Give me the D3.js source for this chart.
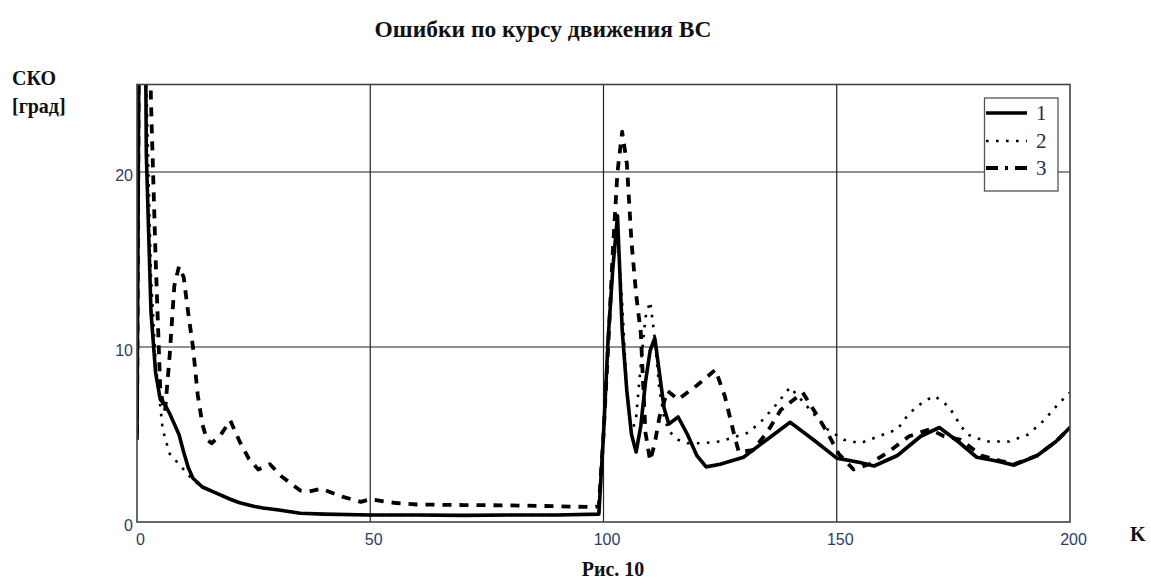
<!DOCTYPE html>
<html><head><meta charset="utf-8">
<script src="https://cdn.jsdelivr.net/npm/d3@7"></script>
<style>body{margin:0;background:#fff;}svg{display:block;}</style>
</head><body>
<svg id="c" width="1151" height="585"></svg>
<script>
// ---- data ----
const xTicks = [0, 50, 100, 150, 200];
const yTicks = [0, 10, 20];
const seriesNames = ["1", "2", "3"];

const s1K = [0,1,2,3,4,5,6,7,8,9,10,11,12,14,17,20,22,25,27,30,35,40,50,60,70,80,90,99,100,101,102,103,104,105,106,107,108,109,110,111,112,113,114,116,118,120,122,125,130,135,140,145,150,155,158,163,168,172,176,180,184,188,193,197,200];
const s1V = [4.7,60,21,12,8.5,7.0,6.7,6.2,5.6,5.0,4.0,3.1,2.5,2.0,1.65,1.3,1.1,0.9,0.8,0.7,0.5,0.45,0.4,0.4,0.38,0.4,0.4,0.45,5,10.5,14.5,17.5,11,7.5,5.0,4.0,5.5,8,9.8,10.5,8.5,6.5,5.6,6.0,5.0,3.8,3.15,3.3,3.7,4.7,5.7,4.7,3.65,3.4,3.2,3.8,4.9,5.4,4.6,3.7,3.5,3.25,3.8,4.6,5.4];

const s2K = [0,1,2,3,4,5,5.5,7,10,12,14,17,20,22,25,27,30,35,40,50,60,70,80,90,99,100,101,102,103,104,105,106,107,108,109,110,111,112,113,114,116,118,121,125,131,134,137,140,142,145,148,151.5,155,159,163,165.5,168.7,171,174,176.6,178,182,187,191,194.4,197.7,200];
const s2V = [4.7,60,25,14,9,6.6,5.3,3.9,3.0,2.4,2.0,1.65,1.3,1.1,0.9,0.8,0.7,0.5,0.45,0.4,0.4,0.38,0.4,0.4,0.45,5,10.5,14.5,16.5,12.5,7.5,5.0,6.0,9.0,11.7,12.6,10.5,7.5,6.0,5.2,4.7,4.5,4.5,4.6,5.1,5.8,6.7,7.7,7.1,6.2,5.3,4.7,4.5,4.9,5.3,6.2,6.9,7.2,6.6,5.5,5.0,4.6,4.6,5.0,5.8,6.8,7.4];

const s3K = [0,1,2,3,4,5,6,7,8,9,10,11,12,13,14,15,16,18,20,22,24,26,28.5,31,35,37,39.5,44,48,50,55,60,70,80,90,98,99,100,101,102,103,104,105,106,107,108,108.5,109,110,111,112,113.7,116,120,124,126,128,129,132,135,138,142.7,146,148,150.4,153.6,157,161.6,165.5,170,173,176.6,181,185,188,193,197,200];
const s3V = [5,60,40,24,15,7.5,6.3,9.5,13.5,14.6,14,11.9,10,7.3,5.6,4.7,4.5,5.0,5.8,4.6,3.6,3.0,3.3,2.6,1.8,1.75,1.9,1.45,1.15,1.3,1.1,1.0,0.97,0.95,0.9,0.85,0.9,5,10,15.5,20,22.3,20.5,16,13,10.8,7.9,5.1,3.5,4.5,6.0,7.5,7.0,7.8,8.7,7.2,5.0,4.0,4.1,5.1,6.4,7.4,6.0,5.1,3.9,3.0,3.3,4.1,4.9,5.3,4.9,4.7,3.8,3.5,3.3,3.8,4.6,5.4];

// ---- layout ----
const svg = d3.select("#c");
const L = 137, R = 1070, T = 84.5, B = 522;
const x = d3.scaleLinear().domain([0, 200]).range([L, R]);
const y = d3.scaleLinear().domain([0, 25]).range([B, T]);

const serif = "'Liberation Serif','Times New Roman',serif";
const sans = "'Liberation Sans',Arial,sans-serif";
const labelColor = "#2b3c6b";

// title
svg.append("text").attr("x", 543).attr("y", 37).attr("text-anchor", "middle")
  .attr("font-family", serif).attr("font-weight", "bold").attr("font-size", 23.5)
  .attr("fill", "#111").text("Ошибки по курсу движения ВС");

// axis titles
svg.append("text").attr("x", 12).attr("y", 85).attr("font-family", serif)
  .attr("font-weight", "bold").attr("font-size", 20).attr("fill", "#111").text("СКО");
svg.append("text").attr("x", 12).attr("y", 113).attr("font-family", serif)
  .attr("font-weight", "bold").attr("font-size", 20).attr("fill", "#111").text("[град]");
svg.append("text").attr("x", 1130).attr("y", 541).attr("font-family", serif)
  .attr("font-weight", "bold").attr("font-size", 20).attr("fill", "#111").text("K");
svg.append("text").attr("x", 613).attr("y", 576).attr("text-anchor", "middle").attr("font-family", serif)
  .attr("font-weight", "bold").attr("font-size", 20).attr("fill", "#111").text("Рис. 10");

// grid
const g = svg.append("g");
g.selectAll(".gx").data(xTicks.filter(d => d > 0 && d < 200)).join("line")
  .attr("x1", d => x(d)).attr("x2", d => x(d)).attr("y1", T).attr("y2", B)
  .attr("stroke", "#222").attr("stroke-width", 1.2);
g.selectAll(".gy").data(yTicks.filter(d => d > 0)).join("line")
  .attr("x1", L).attr("x2", R).attr("y1", d => y(d)).attr("y2", d => y(d))
  .attr("stroke", "#222").attr("stroke-width", 1.2);

// axes via d3
const xAxis = d3.axisBottom(x).tickValues(xTicks).tickSize(0).tickPadding(12).tickFormat(d3.format("d"));
const ax = svg.append("g").attr("transform", `translate(3,${B})`).call(xAxis);
ax.select(".domain").remove();
ax.selectAll("text").attr("font-family", sans).attr("font-size", 16).attr("fill", labelColor);

const yAxis = d3.axisLeft(y).tickValues(yTicks).tickSize(0).tickPadding(4).tickFormat(d3.format("d"));
const ay = svg.append("g").attr("transform", `translate(${L},3)`).call(yAxis);
ay.select(".domain").remove();
ay.selectAll("text").attr("font-family", sans).attr("font-size", 16).attr("fill", labelColor);

// clip
svg.append("clipPath").attr("id", "clip").append("rect")
  .attr("x", L).attr("y", T).attr("width", R - L).attr("height", B - T);

const line = d3.line().x(d => x(d[0])).y(d => y(d[1]));
const styles = [
  {w: 3.6, dash: null, cap: "butt"},
  {w: 2.6, dash: "2.6,7.4", cap: "butt"},
  {w: 3.8, dash: "9,8", cap: "butt"}
];
const data = [
  d3.zip(s1K, s1V),
  d3.zip(s2K, s2V),
  d3.zip(s3K, s3V)
];
const plot = svg.append("g").attr("clip-path", "url(#clip)");
[1, 2, 0].forEach(i => {
  plot.append("path").datum(data[i]).attr("d", line).attr("fill", "none")
    .attr("stroke", "#000").attr("stroke-width", styles[i].w)
    .attr("stroke-dasharray", styles[i].dash).attr("stroke-linejoin", "round")
    .attr("stroke-linecap", styles[i].cap);
});

// frame
svg.append("rect").attr("x", L).attr("y", T).attr("width", R - L).attr("height", B - T)
  .attr("fill", "none").attr("stroke", "#444").attr("stroke-width", 1.6);

// legend
const lg = svg.append("g");
lg.append("rect").attr("x", 984.5).attr("y", 98).attr("width", 73.5).attr("height", 93)
  .attr("fill", "#fff").attr("stroke", "#555").attr("stroke-width", 1.3);
const legY = [113, 141, 168];
const legDash = [null, "2.6,7.4", "12,7,3,7"];
seriesNames.forEach((n, i) => {
  lg.append("line").attr("x1", 986).attr("x2", 1027).attr("y1", legY[i]).attr("y2", legY[i])
    .attr("stroke", "#000").attr("stroke-width", styles[i].w).attr("stroke-dasharray", legDash[i]);
  lg.append("text").attr("x", 1036).attr("y", legY[i] + 7).attr("font-family", serif)
    .attr("font-size", 21).attr("fill", "#1f2a55").text(n);
});
</script>
</body></html>
